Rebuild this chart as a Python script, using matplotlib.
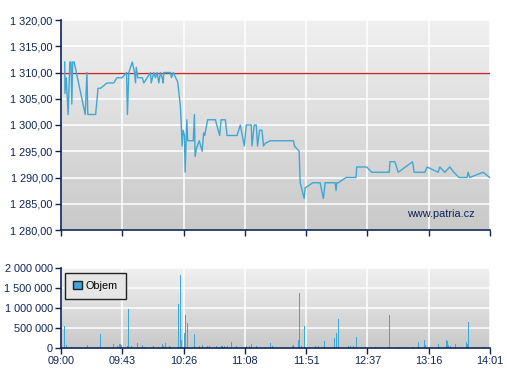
import numpy as np
import matplotlib
matplotlib.use("Agg")
import matplotlib.pyplot as plt
from matplotlib.patches import Patch

plt.rcParams['font.family'] = ['Liberation Sans', 'DejaVu Sans']

# minutes from 09:00 (axis is 301 min wide, 7 equal steps)
tick_labels = ['09:00', '09:43', '10:26', '11:08', '11:51', '12:37', '13:16', '14:01']
ref_price = 1310

price_t = [2.6, 2.8, 3.7, 5.0, 6.2, 7.0, 7.6, 8.2, 9.2, 17.0, 18.2, 18.8, 24.3, 26.0, 27.8,
           32.2, 37.0, 39.2, 42.8, 46.0, 46.6, 47.6, 50.0, 51.6, 52.3, 52.8, 53.9, 57.0, 58.1,
           62.8, 63.3, 65.1, 66.3, 67.5, 68.6, 69.8, 71.0, 71.7, 72.1, 76.8, 77.5, 78.7, 81.9,
           83.8, 85.0, 85.7, 86.6, 87.1, 87.8, 88.3, 88.9, 92.8, 93.6, 94.1, 95.0, 97.0, 99.0,
           100.1, 100.8, 102.9, 108.3, 111.3, 112.3, 115.3, 116.5, 123.5, 125.8, 128.6, 130.0,
           133.5, 134.0, 135.6, 137.0, 137.9, 139.3, 141.0, 142.1, 143.3, 146.8, 163.1, 163.8,
           167.1, 167.8, 170.6, 171.3, 176.7, 181.8, 184.1, 185.3, 192.3, 193.0, 193.5, 194.6,
           200.0, 207.0, 207.5, 214.5, 218.0, 230.3, 230.8, 234.3, 236.6, 246.7, 247.8, 255.3,
           256.9, 264.6, 265.8, 269.3, 272.8, 275.6, 279.3, 284.9, 285.6, 286.8, 296.1, 300.8]
price_v = [1312, 1306, 1309, 1302, 1312, 1312, 1304, 1312, 1312, 1302, 1310, 1302, 1302, 1307, 1307,
           1308, 1308, 1309, 1309, 1310, 1302, 1310, 1312, 1310, 1308, 1311, 1309, 1309, 1308,
           1310, 1308, 1310, 1309, 1310, 1308, 1310, 1309, 1308, 1310, 1310, 1309, 1310, 1308.2,
           1303.5, 1296, 1299, 1298, 1291, 1297, 1301, 1297, 1297, 1302, 1294, 1295.5, 1297, 1295,
           1298.5, 1298, 1301, 1301, 1298, 1301, 1301, 1298, 1298, 1300, 1296, 1300,
           1300, 1296, 1300, 1300, 1296, 1299, 1299, 1296, 1296.5, 1297, 1297, 1296,
           1295, 1289, 1286, 1288, 1289, 1289, 1286, 1289, 1289, 1287.5, 1289, 1289,
           1290, 1290, 1292, 1292, 1291, 1291, 1293, 1293, 1291, 1293, 1291, 1291,
           1292, 1291, 1292, 1291, 1292, 1291, 1290, 1290, 1291, 1290, 1291, 1290]

vol_t = [2.8, 4.0, 7.5, 18.0, 18.9, 25.9, 27.8, 32.0, 34.3, 37.1, 39.9, 40.9, 41.8, 42.5, 46.5,
         47.6, 49.3, 53.9, 57.0, 58.6, 65.1, 68.6, 71.0, 71.7, 73.5, 76.3, 77.0, 82.6, 84.0,
         84.7, 86.8, 87.5, 88.9, 93.8, 97.3, 99.6, 102.9, 104.1, 108.8, 112.3, 113.2, 115.0,
         116.5, 119.7, 123.4, 126.3, 130.4, 132.3, 133.9, 137.0, 143.3, 147.3, 148.4, 162.7,
         163.4, 166.6, 167.3, 168.7, 170.8, 178.8, 180.6, 184.6, 191.8, 193.2, 194.6, 201.6,
         202.8, 205.1, 207.2, 218.0, 220.8, 229.0, 230.3, 236.6, 246.4, 247.6, 250.6, 254.8,
         255.5, 264.9, 265.6, 270.2, 270.9, 271.9, 273.0, 276.5, 284.2, 284.9, 285.6, 296.1]
vol_v = [540e3, 76e3, 25e3, 25e3, 76e3, 25e3, 354e3, 25e3, 25e3, 93e3, 59e3, 93e3, 93e3, 76e3, 59e3,
         987e3, 50e3, 127e3, 76e3, 25e3, 50e3, 25e3, 93e3, 50e3, 127e3, 59e3, 25e3, 1089e3, 1823e3,
         203e3, 380e3, 835e3, 633e3, 354e3, 59e3, 76e3, 59e3, 59e3, 59e3, 59e3, 42e3, 59e3,
         59e3, 160e3, 59e3, 34e3, 59e3, 59e3, 93e3, 59e3, 25e3, 135e3, 50e3, 50e3,
         76e3, 203e3, 1367e3, 50e3, 540e3, 50e3, 50e3, 177e3, 253e3, 380e3, 734e3, 50e3,
         50e3, 50e3, 278e3, 25e3, 25e3, 25e3, 835e3, 25e3, 25e3, 25e3, 143e3, 203e3,
         84e3, 110e3, 25e3, 203e3, 177e3, 84e3, 50e3, 110e3, 143e3, 110e3, 658e3, 25e3]

navy = '#0c2456'
blue = '#3fa7d6'
tick_pos = np.linspace(0, 301, 8)


def fmt_space(v, dec):
    s = f"{v:,.{dec}f}".replace(',', ' ').replace('.', ',')
    return s


def style_ax(ax, ymin, ymax):
    grad = np.linspace(0, 1, 256).reshape(-1, 1)
    ax.imshow(grad, extent=[0, 1, 0, 1], transform=ax.transAxes, aspect='auto',
              cmap=matplotlib.colors.LinearSegmentedColormap.from_list('g', ['#c9c9c9', '#f0f0f0']),
              origin='lower', zorder=0)
    ax.set_xlim(0, 301)
    ax.set_ylim(ymin, ymax)
    ax.set_xticks(tick_pos)
    ax.grid(True, color='white', linewidth=1.1)
    ax.set_axisbelow(True)
    for s in ['top', 'right']:
        ax.spines[s].set_visible(False)
    for s in ['left', 'bottom']:
        ax.spines[s].set_color(navy)
        ax.spines[s].set_linewidth(1.2)
        ax.spines[s].set_zorder(6)
    ax.tick_params(colors=navy, labelsize=7.8, length=4, width=1, direction='out', pad=2)


fig = plt.figure(figsize=(5.07, 3.80), dpi=100)

ax1 = fig.add_axes([61/507, 1 - 230/380, 429/507, 210/380])
style_ax(ax1, 1280, 1320)
ax1.set_yticks(np.arange(1280, 1321, 5))
ax1.set_yticklabels([fmt_space(v, 2) for v in np.arange(1280, 1321, 5)])
ax1.set_xticklabels([])
ax1.axhline(ref_price, color='#c42a2a', linewidth=1, zorder=3)
ax1.plot(price_t, price_v, color=blue, linewidth=1, zorder=4)
ax1.text(0.965, 0.075, 'www.patria.cz', transform=ax1.transAxes, ha='right', va='center',
         color=navy, fontsize=7.8, zorder=5)

ax2 = fig.add_axes([61/507, 1 - 348/380, 429/507, 80/380])
style_ax(ax2, 0, 2000000)
ax2.set_yticks(np.arange(0, 2000001, 500000))
ax2.set_yticklabels([fmt_space(v, 0) for v in np.arange(0, 2000001, 500000)])
ax2.set_xticklabels(tick_labels)
ax2.bar(vol_t, vol_v, width=0.7, color=blue, zorder=3)
leg = ax2.legend(handles=[Patch(facecolor=blue, edgecolor='#222222', label='Objem')],
                 loc='upper left', bbox_to_anchor=(0.009, 0.94), borderaxespad=0,
                 fontsize=7.8, handlelength=0.8, handleheight=0.8, handletextpad=0.4,
                 borderpad=0.75, fancybox=False, framealpha=1)
leg.get_frame().set_edgecolor('#222222')
leg.get_frame().set_facecolor('#e6e6e6')
leg.get_frame().set_linewidth(1)
leg.set_zorder(5)

fig.savefig('out.png', dpi=100)
